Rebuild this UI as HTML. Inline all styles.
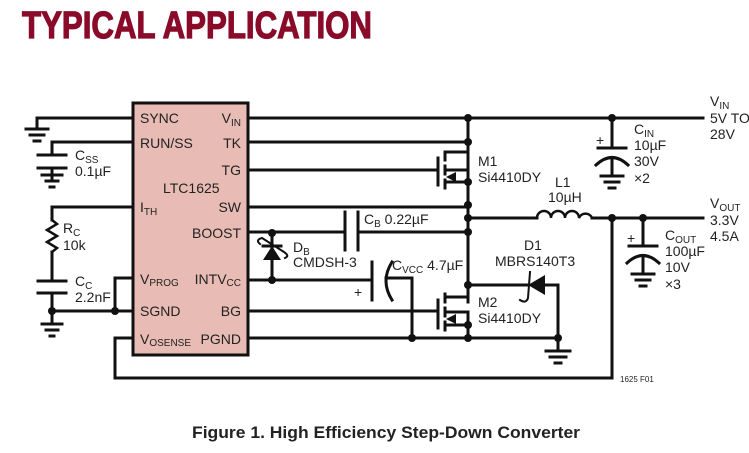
<!DOCTYPE html>
<html><head><style>
html,body{margin:0;padding:0;background:#fff;width:749px;height:453px;overflow:hidden}
svg{display:block}
text{font-family:"Liberation Sans",sans-serif;fill:#222}
</style></head><body>
<svg width="749" height="453" viewBox="0 0 749 453" xmlns="http://www.w3.org/2000/svg">
<text x="22" y="38" font-size="38" font-weight="bold" style="fill:#8a0a2a;stroke:#8a0a2a;stroke-width:1.2" textLength="350" lengthAdjust="spacingAndGlyphs">TYPICAL APPLICATION</text>
<g stroke="#111" stroke-width="3" fill="none" stroke-linecap="square">
<rect x="133" y="103" width="115" height="252" fill="#e8bcb4" stroke-width="3"/>
<polyline points="133,118 37,118 37,128"/>
<line x1="26" y1="129" x2="48" y2="129"/><line x1="30" y1="135" x2="44" y2="135"/><line x1="34" y1="141" x2="40" y2="141"/>
<polyline points="133,142 52,142 52,155"/>
<line x1="38" y1="155" x2="66" y2="155"/><line x1="38" y1="168" x2="66" y2="168"/>
<line x1="52" y1="168" x2="52" y2="178"/>
<line x1="42" y1="175" x2="62" y2="175"/><line x1="46" y1="181" x2="58" y2="181"/><line x1="50" y1="187" x2="54" y2="187"/>
<polyline points="133,207 52,207 52,220"/>
<polyline stroke-width="2.5" points="52,220 57,224 47,230 57,236 47,242 57,248 52,252"/>
<line x1="52" y1="252" x2="52" y2="281"/>
<line x1="38" y1="281" x2="66" y2="281"/><line x1="38" y1="293" x2="66" y2="293"/>
<line x1="52" y1="293" x2="52" y2="323"/>
<line x1="42" y1="324" x2="62" y2="324"/><line x1="46" y1="330" x2="58" y2="330"/><line x1="50" y1="336" x2="54" y2="336"/>
<polyline points="133,278 115,278 115,311"/>
<line x1="52" y1="311" x2="133" y2="311"/>
<polyline points="133,338 115,338 115,378 612,378 612,218"/>
<line x1="248" y1="118" x2="703" y2="118"/>
<line x1="248" y1="142" x2="468" y2="142"/>
<line x1="248" y1="170" x2="438" y2="170"/>
<line x1="248" y1="207" x2="468" y2="207"/>
<line x1="248" y1="232" x2="345" y2="232"/><line x1="358" y1="232" x2="468" y2="232"/>
<line x1="345" y1="212" x2="345" y2="250"/><line x1="358" y1="212" x2="358" y2="250"/>
<line x1="248" y1="280" x2="372" y2="280"/>
<line x1="372" y1="262" x2="372" y2="300"/>
<path d="M392,262 Q380,281 392,300"/>
<polyline points="386,278 412,278 412,338"/>
<line x1="248" y1="311" x2="438" y2="311"/>
<line x1="248" y1="338" x2="558" y2="338"/>
<line x1="272" y1="232" x2="272" y2="280"/>
<line x1="263" y1="246" x2="281" y2="246"/>
<path d="M260,244 Q255,240 262,238 L284,252 Q290,256 285,258" stroke-width="2"/>
<line x1="468" y1="118" x2="468" y2="182"/>
<line x1="468" y1="205" x2="468" y2="302"/>
<line x1="468" y1="320" x2="468" y2="338"/>
<line x1="438" y1="158" x2="438" y2="185"/>
<line x1="445" y1="152" x2="445" y2="160"/><line x1="445" y1="166" x2="445" y2="174"/><line x1="445" y1="180" x2="445" y2="188"/>
<polyline points="445,152 468,152"/><polyline points="445,182 468,182"/><polyline points="445,170 468,170 468,182"/>
<line x1="468" y1="182" x2="468" y2="207"/>
<line x1="438" y1="300" x2="438" y2="328"/>
<line x1="445" y1="294" x2="445" y2="302"/><line x1="445" y1="308" x2="445" y2="316"/><line x1="445" y1="322" x2="445" y2="330"/>
<polyline points="445,297 468,297 468,302"/><polyline points="445,312 468,312 468,325"/><polyline points="445,325 468,325"/>
<line x1="468" y1="285" x2="468" y2="297"/>
<line x1="468" y1="285" x2="528" y2="285"/>
<polyline points="545,285 558,285 558,338"/>
<path d="M530,272 L528,298 Q526,304 520,300" stroke-width="2"/>
<line x1="558" y1="338" x2="558" y2="350"/>
<line x1="546" y1="351" x2="570" y2="351"/><line x1="550" y1="357" x2="566" y2="357"/><line x1="555" y1="363" x2="561" y2="363"/>
<line x1="468" y1="218" x2="537" y2="218"/>
<path d="M537,218 a7,7 0 0 1 14,0 a7,7 0 0 1 14,0 a7,7 0 0 1 14,0 a7,7 0 0 1 13,0" stroke-width="2.5"/>
<line x1="592" y1="218" x2="703" y2="218"/>
<line x1="612" y1="118" x2="612" y2="148"/>
<line x1="598" y1="148" x2="626" y2="148"/>
<path d="M596,165 Q612,150 628,165"/>
<line x1="612" y1="158" x2="612" y2="175"/>
<line x1="601" y1="176" x2="623" y2="176"/><line x1="605" y1="182" x2="619" y2="182"/><line x1="609" y1="188" x2="615" y2="188"/>
<line x1="643" y1="218" x2="643" y2="246"/>
<line x1="629" y1="246" x2="657" y2="246"/>
<path d="M627,263 Q643,248 659,263"/>
<line x1="643" y1="256" x2="643" y2="273"/>
<line x1="632" y1="274" x2="654" y2="274"/><line x1="636" y1="280" x2="650" y2="280"/><line x1="640" y1="286" x2="646" y2="286"/>
</g>
<g fill="#111">
<polygon points="272,246 263,260 281,260"/>
<polygon points="528,285 545,275 545,295"/>
<polygon points="446,177 456,172 456,182"/>
<polygon points="446,319 456,314 456,324"/>
<circle cx="52" cy="311" r="4"/><circle cx="115" cy="311" r="4"/>
<circle cx="272" cy="233" r="4"/><circle cx="272" cy="280" r="4"/>
<circle cx="468" cy="118" r="4"/><circle cx="468" cy="142" r="4"/><circle cx="468" cy="182" r="4"/>
<circle cx="468" cy="205" r="4"/><circle cx="468" cy="218" r="4"/><circle cx="468" cy="232" r="4"/>
<circle cx="468" cy="285" r="4"/><circle cx="468" cy="325" r="4"/><circle cx="468" cy="338" r="4"/>
<circle cx="412" cy="338" r="4"/><circle cx="558" cy="338" r="4"/>
<circle cx="612" cy="118" r="4"/><circle cx="612" cy="218" r="4"/><circle cx="643" cy="218" r="4"/>
</g>
<g font-size="14">
<text x="140" y="123">SYNC</text><text x="140" y="148">RUN/SS</text>
<text x="140" y="212">I<tspan font-size="10" dy="3">TH</tspan></text>
<text x="140" y="284">V<tspan font-size="10" dy="2">PROG</tspan></text>
<text x="140" y="316">SGND</text>
<text x="140" y="344">V<tspan font-size="10" dy="2">OSENSE</tspan></text>
<text x="241" y="123" text-anchor="end">V<tspan font-size="10" dy="3">IN</tspan></text>
<text x="241" y="148" text-anchor="end">TK</text>
<text x="241" y="175" text-anchor="end">TG</text>
<text x="163" y="193">LTC1625</text>
<text x="241" y="212" text-anchor="end">SW</text>
<text x="241" y="238" text-anchor="end">BOOST</text>
<text x="241" y="284" text-anchor="end">INTV<tspan font-size="10" dy="2">CC</tspan></text>
<text x="241" y="316" text-anchor="end">BG</text>
<text x="241" y="344" text-anchor="end">PGND</text>
<text x="75" y="160">C<tspan font-size="10" dy="3">SS</tspan></text><text x="75" y="176">0.1µF</text>
<text x="63" y="233">R<tspan font-size="10" dy="3">C</tspan></text><text x="63" y="250">10k</text>
<text x="75" y="286">C<tspan font-size="10" dy="3">C</tspan></text><text x="75" y="302">2.2nF</text>
<text x="364" y="224">C<tspan font-size="10" dy="3">B</tspan><tspan dy="-3"> 0.22µF</tspan></text>
<text x="293" y="252">D<tspan font-size="10" dy="3">B</tspan></text><text x="293" y="267">CMDSH-3</text>
<text x="392" y="270">C<tspan font-size="10" dy="3">VCC</tspan><tspan dy="-3"> 4.7µF</tspan></text>
<text x="354" y="297">+</text>
<text x="478" y="166">M1</text><text x="478" y="182">Si4410DY</text>
<text x="478" y="307">M2</text><text x="478" y="323">Si4410DY</text>
<text x="524" y="250">D1</text><text x="495" y="266">MBRS140T3</text>
<text x="555" y="187">L1</text><text x="548" y="202">10µH</text>
<text x="596" y="145">+</text>
<text x="634" y="134">C<tspan font-size="10" dy="3">IN</tspan></text><text x="634" y="150">10µF</text><text x="634" y="166">30V</text><text x="634" y="183">×2</text>
<text x="627" y="243">+</text>
<text x="665" y="240">C<tspan font-size="10" dy="3">OUT</tspan></text><text x="665" y="256">100µF</text><text x="665" y="272">10V</text><text x="665" y="289">×3</text>
<text x="710" y="106">V<tspan font-size="10" dy="3">IN</tspan></text><text x="710" y="123">5V TO</text><text x="710" y="139">28V</text>
<text x="710" y="208">V<tspan font-size="10" dy="3">OUT</tspan></text><text x="710" y="225">3.3V</text><text x="710" y="241">4.5A</text>
</g>
<text x="620" y="382" font-size="8">1625 F01</text>
<text x="192" y="438" font-size="17" font-weight="bold" textLength="388" lengthAdjust="spacingAndGlyphs">Figure 1. High Efficiency Step-Down Converter</text>
</svg>
</body></html>
